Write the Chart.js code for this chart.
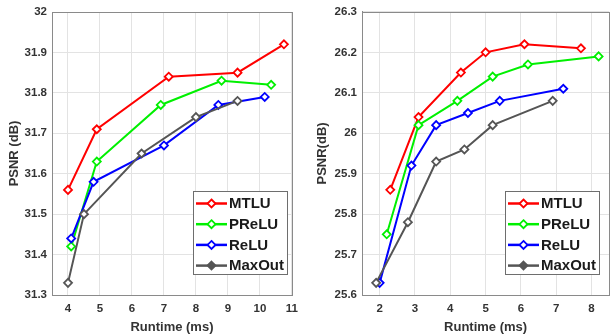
<!DOCTYPE html>
<html>
<head>
<meta charset="utf-8">
<script src="https://cdn.jsdelivr.net/npm/chart.js@4.4.1/dist/chart.umd.min.js"></script>
<style>
  html, body { margin: 0; padding: 0; background: #fff; overflow: hidden; width: 610px; height: 335px; }
  #left { position: absolute; left: 0; top: 0; }
  #right { position: absolute; left: 305px; top: 0; }
</style>
</head>
<body>
<canvas id="left" width="305" height="335"></canvas>
<canvas id="right" width="310" height="335"></canvas>
<script>
// series labels
const seriesNames = ['MTLU', 'PReLU', 'ReLU', 'MaxOut'];
const seriesColors = ['#ff0000', '#00f000', '#0000ff', '#555555'];

// left panel: runtime (ms) / PSNR (dB)
const leftMtluX   = [4.0, 4.9, 7.15, 9.3, 10.75];
const leftMtluY   = [31.56, 31.71, 31.84, 31.85, 31.92];
const leftPreluX  = [4.1, 4.9, 6.9, 8.8, 10.35];
const leftPreluY  = [31.42, 31.63, 31.77, 31.83, 31.82];
const leftReluX   = [4.1, 4.8, 7.0, 8.7, 10.15];
const leftReluY   = [31.44, 31.58, 31.67, 31.77, 31.79];
const leftMaxoutX = [4.0, 4.5, 6.3, 8.0, 9.3];
const leftMaxoutY = [31.33, 31.50, 31.65, 31.74, 31.78];

// right panel
const rightMtluX   = [2.3, 3.1, 4.3, 5.0, 6.1, 7.7];
const rightMtluY   = [25.86, 26.04, 26.15, 26.20, 26.22, 26.21];
const rightPreluX  = [2.2, 3.1, 4.2, 5.2, 6.2, 8.2];
const rightPreluY  = [25.75, 26.02, 26.08, 26.14, 26.17, 26.19];
const rightReluX   = [2.0, 2.9, 3.6, 4.5, 5.4, 7.2];
const rightReluY   = [25.63, 25.92, 26.02, 26.05, 26.08, 26.11];
const rightMaxoutX = [1.9, 2.8, 3.6, 4.4, 5.2, 6.9];
const rightMaxoutY = [25.63, 25.78, 25.93, 25.96, 26.02, 26.08];

// tick labels
const leftXTicks  = [4, 5, 6, 7, 8, 9, 10, 11];
const leftYTicks  = [31.3, 31.4, 31.5, 31.6, 31.7, 31.8, 31.9, 32];
const rightXTicks = [2, 3, 4, 5, 6, 7, 8];
const rightYTicks = [25.6, 25.7, 25.8, 25.9, 26, 26.1, 26.2, 26.3];

const zip = (xs, ys) => xs.map((x, i) => ({ x: x, y: ys[i] }));

function makeDatasets(pairs) {
    return pairs.map((p, i) => ({
        label: seriesNames[i],
        data: zip(p[0], p[1]),
        borderColor: seriesColors[i],
        backgroundColor: '#ffffff',
        pointBorderColor: seriesColors[i],
        pointBackgroundColor: '#ffffff',
        pointStyle: 'rectRot',
        pointRadius: 4,
        pointBorderWidth: 1.8,
        borderWidth: 2,
        showLine: true,
        tension: 0,
        fill: false
    })).reverse(); // red on top
}

// frame + legend box drawn on top
const framePlugin = {
    id: 'frameLegend',
    afterDatasetsDraw(chart, args, opts) {
        const ctx = chart.ctx, a = chart.chartArea;
        ctx.save();
        ctx.strokeStyle = '#8a8a8a';
        ctx.lineWidth = 1;
        ctx.strokeRect(Math.round(a.left) + 0.5, Math.round(a.top) + 0.5,
            Math.round(a.right - a.left), Math.round(a.bottom - a.top));
        // legend
        const L = opts.box;
        ctx.fillStyle = '#ffffff';
        ctx.fillRect(L[0], L[1], L[2], L[3]);
        ctx.strokeStyle = '#6e6e6e';
        ctx.strokeRect(L[0] + 0.5, L[1] + 0.5, L[2], L[3]);
        ctx.font = 'bold 15px "Liberation Sans", Arial, sans-serif';
        ctx.textBaseline = 'middle';
        seriesNames.forEach((name, i) => {
            const y = L[1] + 12.5 + i * 20.7;
            const x0 = L[0] + 3, x1 = L[0] + 34;
            ctx.strokeStyle = seriesColors[i];
            ctx.lineWidth = 2.5;
            ctx.beginPath(); ctx.moveTo(x0, y); ctx.lineTo(x1, y); ctx.stroke();
            const cx = (x0 + x1) / 2;
            ctx.lineWidth = 1.8;
            ctx.fillStyle = i === 3 ? seriesColors[i] : '#ffffff';
            ctx.beginPath();
            ctx.moveTo(cx, y - 4); ctx.lineTo(cx + 4, y); ctx.lineTo(cx, y + 4); ctx.lineTo(cx - 4, y); ctx.closePath();
            ctx.fill(); ctx.stroke();
            ctx.fillStyle = '#1a1a1a';
            ctx.fillText(name, L[0] + 36, y + 0.5);
        });
        ctx.restore();
    }
};

const tickFont = { family: '"Liberation Sans", Arial, sans-serif', size: 11.5, weight: 'bold' };
const titleFont = { family: '"Liberation Sans", Arial, sans-serif', size: 13, weight: 'bold' };

function makeConfig(datasets, xr, yr, xTicks, yTicks, yTitle, yWidth, pad, legendBox) {
    return {
        type: 'scatter',
        data: { datasets: datasets },
        plugins: [framePlugin],
        options: {
            responsive: false,
            animation: false,
            layout: { padding: pad },
            plugins: {
                legend: { display: false },
                tooltip: { enabled: false },
                frameLegend: { box: legendBox }
            },
            scales: {
                x: {
                    type: 'linear', min: xr[0], max: xr[1],
                    afterBuildTicks: s => { s.ticks = xTicks.map(v => ({ value: v })); },
                    afterFit: s => { s.height = 40; },
                    grid: { color: '#e3e3e3', drawTicks: false },
                    border: { color: '#8a8a8a' },
                    ticks: { font: tickFont, color: '#333333', padding: 7, maxRotation: 0, autoSkip: false },
                    title: { display: true, text: 'Runtime (ms)', font: titleFont, color: '#333333', padding: { top: 3, bottom: 0 } }
                },
                y: {
                    type: 'linear', min: yr[0], max: yr[1],
                    afterBuildTicks: s => { s.ticks = yTicks.map(v => ({ value: v })); },
                    afterFit: s => { s.width = yWidth; },
                    grid: { color: '#e3e3e3', drawTicks: false },
                    border: { color: '#8a8a8a' },
                    ticks: {
                        font: tickFont, color: '#333333', padding: 5, autoSkip: false,
                        callback: v => String(+v.toFixed(1))
                    },
                    title: { display: true, text: yTitle, font: titleFont, color: '#333333', padding: { top: 0, bottom: 2 } }
                }
            }
        }
    };
}

new Chart(document.getElementById('left').getContext('2d'), makeConfig(
    makeDatasets([[leftMtluX, leftMtluY], [leftPreluX, leftPreluY], [leftReluX, leftReluY], [leftMaxoutX, leftMaxoutY]]),
    [3.5, 11], [31.3, 32], leftXTicks, leftYTicks, 'PSNR (dB)', 45,
    { left: 7, right: 4, top: 12, bottom: 0 },
    [193, 191, 94, 83]
));

new Chart(document.getElementById('right').getContext('2d'), makeConfig(
    makeDatasets([[rightMtluX, rightMtluY], [rightPreluX, rightPreluY], [rightReluX, rightReluY], [rightMaxoutX, rightMaxoutY]]),
    [1.5, 8.5], [25.6, 26.3], rightXTicks, rightYTicks, 'PSNR(dB)', 47,
    { left: 10, right: 2, top: 10, bottom: 0 },
    [200, 191, 94, 83]
));
</script>
</body>
</html>
